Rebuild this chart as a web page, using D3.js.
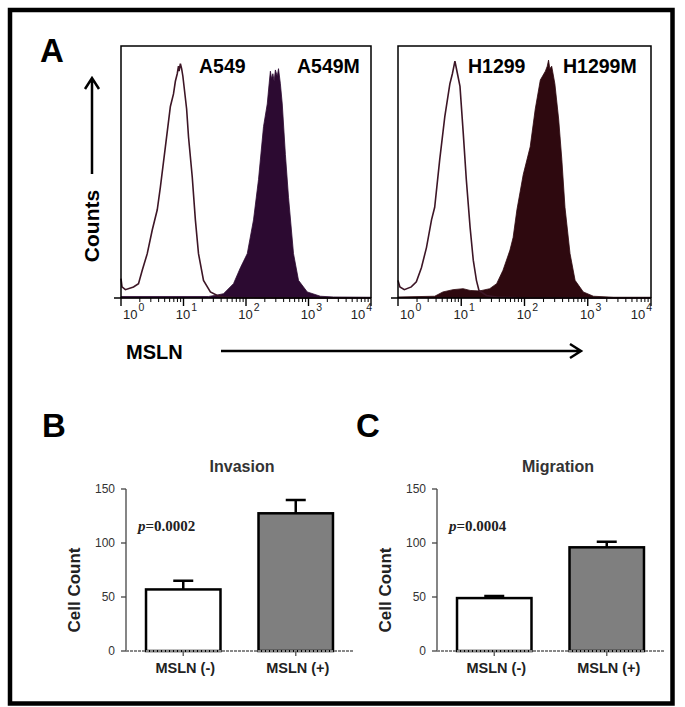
<!DOCTYPE html>
<html>
<head>
<meta charset="utf-8">
<script src="https://cdn.jsdelivr.net/npm/d3@7"></script>
<style>
  html, body { margin: 0; padding: 0; background: #fff; }
  svg { display: block; }
</style>
</head>
<body>
<svg id="chart" width="685" height="707"></svg>
<script>
// ---------------- DATA ----------------
// Flow cytometry histograms: [log10(MSLN intensity), relative counts]
const a549Open = [[0,7.7],[0.016,4.4],[0.07,3.3],[0.2,4.4],[0.28,5.7],[0.34,11],[0.42,17.6],[0.5,27],[0.58,35],[0.63,44],[0.71,60],[0.79,76],[0.84,81],[0.87,86],[0.9,89],[0.92,92],[0.93,90],[0.95,93],[0.97,91],[0.99,88],[1.05,75],[1.08,64],[1.14,48],[1.19,31],[1.24,17.6],[1.32,7],[1.43,2.4],[1.54,1],[1.64,0.4],[1.8,0.2],[2.5,0],[4,0]];
const a549MFilled = [[0,0.6],[1.4,0.6],[1.5,1],[1.64,1.7],[1.8,5.7],[1.91,12],[2.02,17.6],[2.12,31],[2.2,47],[2.28,68],[2.34,77],[2.37,85],[2.39,90],[2.41,87],[2.43,89],[2.45,86],[2.47,90.5],[2.5,88],[2.52,91],[2.55,85],[2.58,77],[2.63,57],[2.68,40],[2.76,17.6],[2.84,7],[2.98,2.4],[3.19,0.7],[3.4,0.4],[4,0.3]];
const h1299Open = [[0,7],[0.03,4.4],[0.1,3.3],[0.21,4.4],[0.29,6.4],[0.37,12],[0.45,20],[0.53,31],[0.58,36],[0.66,55],[0.74,72],[0.82,85],[0.86,89],[0.9,94],[0.94,89],[0.98,84],[1.03,66],[1.08,47],[1.14,28],[1.19,15],[1.24,7],[1.28,3],[1.4,1],[1.56,0.4],[2,0],[4,0]];
const h1299MFilled = [[0,0.4],[0.58,0.7],[0.71,2.4],[0.87,3.3],[1.03,3.7],[1.14,3],[1.29,2.8],[1.45,3.7],[1.56,5.7],[1.66,11],[1.77,19],[1.82,24],[1.88,35],[1.98,49],[2.09,60],[2.17,75],[2.25,86.5],[2.33,90],[2.36,92],[2.38,94.4],[2.4,91],[2.43,92],[2.48,85],[2.54,71],[2.59,55],[2.64,36],[2.72,17.6],[2.8,7],[2.93,2.4],[3.09,0.7],[3.41,0.3],[4,0.3]];
const histLabels = [["A549","A549M"],["H1299","H1299M"]];
const decades = [0,1,2,3,4];

// Bar charts
const categories = ["MSLN (-)", "MSLN (+)"];
const invasionMeans = [57, 127.5];
const invasionErr = [8, 12.3];
const migrationMeans = [49, 96];
const migrationErr = [2, 5.2];
const barTicks = [0, 50, 100, 150];
const barTitles = ["Invasion", "Migration"];
const pValues = ["0.0002", "0.0004"];

// ---------------- DRAW ----------------
const svg = d3.select("#chart");
const SANS = "Arial, 'Liberation Sans', sans-serif";
const SERIF = "'Times New Roman', 'Liberation Serif', serif";

// outer frame
svg.append("rect").attr("x", 10).attr("y", 10).attr("width", 662.5).attr("height", 693.5)
  .attr("fill", "none").attr("stroke", "#000").attr("stroke-width", 4.5);

// panel letters
[["A",40,62],["B",42,437],["C",356,437]].forEach(([t,x,y]) => {
  svg.append("text").attr("x", x).attr("y", y).text(t)
    .attr("font-family", SANS).attr("font-weight", "bold").attr("font-size", 33).attr("fill", "#000");
});

function histogram(x0, x1, openData, fillData, labels, fillColor, labelX) {
  const y0 = 298, yTop = 46;
  const x = d3.scaleLinear().domain([0, 4]).range([x0, x1]);
  const y = d3.scaleLinear().domain([0, 100]).range([y0, yTop]);
  const g = svg.append("g");

  const area = d3.area().x(d => x(d[0])).y0(y(0)).y1(d => y(d[1]));
  g.append("path").datum(fillData).attr("d", area).attr("fill", fillColor)
    .attr("stroke", fillColor).attr("stroke-width", 0.8);

  const line = d3.line().x(d => x(d[0])).y(d => y(d[1]));
  g.append("path").datum(openData).attr("d", line)
    .attr("fill", "none").attr("stroke", "#3d1626").attr("stroke-width", 1.6);

  // frame (left, top, right)
  g.append("path")
    .attr("d", `M${x0},${y0} V${yTop} H${x1} V${y0}`)
    .attr("fill", "none").attr("stroke", "#000").attr("stroke-width", 1.5);

  // bottom axis with log ticks
  g.append("line").attr("x1", x0 - 7).attr("x2", x1).attr("y1", y0).attr("y2", y0)
    .attr("stroke", "#000").attr("stroke-width", 1.5);
  const minor = [];
  decades.slice(0, 4).forEach(dk => { for (let m = 2; m <= 9; m++) minor.push(dk + Math.log10(m)); });
  g.selectAll(".mn").data(minor).enter().append("line")
    .attr("x1", d => x(d)).attr("x2", d => x(d)).attr("y1", y0).attr("y2", y0 + 4)
    .attr("stroke", "#000").attr("stroke-width", 1);
  g.selectAll(".mj").data(decades).enter().append("line")
    .attr("x1", d => x(d)).attr("x2", d => x(d)).attr("y1", y0).attr("y2", y0 + 8)
    .attr("stroke", "#000").attr("stroke-width", 1.4);

  decades.forEach((k, i) => {
    const t = g.append("text").attr("y", 319)
      .attr("font-family", SANS).attr("font-size", 13).attr("fill", "#222");
    let anchor = "middle", px = x(k) + 3;
    if (i === 0) { anchor = "start"; px = x(k) + 2; }
    if (i === decades.length - 1) { anchor = "end"; px = x(k) + 1; }
    t.attr("x", px).attr("text-anchor", anchor);
    t.append("tspan").text("10");
    t.append("tspan").attr("dy", -8).attr("dx", 1).attr("font-size", 10.5).text(k);
  });

  labels.forEach((lab, i) => {
    g.append("text").attr("x", labelX[i]).attr("y", 73).text(lab)
      .attr("font-family", SANS).attr("font-weight", "bold").attr("font-size", 19.5).attr("fill", "#000");
  });
}

histogram(121, 371, a549Open, a549MFilled, histLabels[0], "#2c0a31", [199, 297]);
histogram(398, 651, h1299Open, h1299MFilled, histLabels[1], "#2e090f", [468, 563]);

// Counts arrow + label
svg.append("path").attr("d", "M92,174 V78 M85,89 L92,78 L99,89")
  .attr("fill", "none").attr("stroke", "#000").attr("stroke-width", 2.5);
svg.append("text").attr("transform", "translate(99,226) rotate(-90)")
  .attr("text-anchor", "middle").text("Counts")
  .attr("font-family", SANS).attr("font-weight", "bold").attr("font-size", 21);

// MSLN arrow + label
svg.append("text").attr("x", 126).attr("y", 359).text("MSLN")
  .attr("font-family", SANS).attr("font-weight", "bold").attr("font-size", 20);
svg.append("path").attr("d", "M221,351 H581 M570,344 L581,351 L570,358")
  .attr("fill", "none").attr("stroke", "#000").attr("stroke-width", 2.5);

// Bar charts
function barChart(axisX, means, errs, title, pval, titleX) {
  const W = 227;
  const y = d3.scaleLinear().domain([0, 150]).range([651, 489]);
  const x = d3.scaleBand().domain(categories).range([axisX, axisX + W])
    .paddingInner(0.338).paddingOuter(0.178);
  const g = svg.append("g");

  // y axis
  g.append("line").attr("x1", axisX).attr("x2", axisX).attr("y1", y(150)).attr("y2", y(0))
    .attr("stroke", "#444").attr("stroke-width", 1.3);
  g.selectAll(".yt").data(barTicks).enter().append("line")
    .attr("x1", axisX - 5).attr("x2", axisX).attr("y1", d => y(d)).attr("y2", d => y(d))
    .attr("stroke", "#444").attr("stroke-width", 1.3);
  g.selectAll(".yl").data(barTicks).enter().append("text")
    .attr("x", axisX - 11).attr("y", d => y(d) + 4).attr("text-anchor", "end").text(d => d)
    .attr("font-family", SANS).attr("font-size", 12).attr("fill", "#333");

  // bars
  g.selectAll(".bar").data(means).enter().append("rect")
    .attr("x", (d, i) => x(categories[i])).attr("width", x.bandwidth())
    .attr("y", d => y(d)).attr("height", d => y(0) - y(d))
    .attr("fill", (d, i) => i === 0 ? "#fff" : "#7f7f7f")
    .attr("stroke", "#000").attr("stroke-width", 2.5);

  // error bars (upper)
  means.forEach((m, i) => {
    const cx = x(categories[i]) + x.bandwidth() / 2;
    g.append("path")
      .attr("d", `M${cx},${y(m)} V${y(m + errs[i])} M${cx - 10},${y(m + errs[i])} H${cx + 10}`)
      .attr("fill", "none").attr("stroke", "#000").attr("stroke-width", 2.5);
  });

  // x axis
  g.append("line").attr("x1", axisX).attr("x2", axisX + W).attr("y1", y(0)).attr("y2", y(0))
    .attr("stroke", "#888").attr("stroke-width", 2).attr("stroke-dasharray", "3,1");
  categories.forEach(c => {
    const cx = x(c) + x.bandwidth() / 2;
    g.append("line").attr("x1", cx).attr("x2", cx).attr("y1", y(0)).attr("y2", y(0) + 5)
      .attr("stroke", "#666").attr("stroke-width", 1.5);
    g.append("text").attr("x", cx + 2).attr("y", 673).attr("text-anchor", "middle").text(c)
      .attr("font-family", SANS).attr("font-weight", "bold").attr("font-size", 14.5).attr("fill", "#222");
  });

  // title
  g.append("text").attr("x", titleX).attr("y", 472).attr("text-anchor", "middle").text(title)
    .attr("font-family", SANS).attr("font-weight", "bold").attr("font-size", 16).attr("fill", "#333");

  // y label
  g.append("text").attr("transform", `translate(${axisX - 46},${y(0) - 61}) rotate(-90)`)
    .attr("text-anchor", "middle").text("Cell Count")
    .attr("font-family", SANS).attr("font-weight", "bold").attr("font-size", 17).attr("fill", "#222");

  // p value
  const pt = g.append("text").attr("x", axisX + 12).attr("y", 531)
    .attr("font-family", SERIF).attr("font-weight", "bold").attr("font-size", 15).attr("fill", "#222");
  pt.append("tspan").attr("font-style", "italic").text("p");
  pt.append("tspan").text("=" + pval);
}

barChart(126, invasionMeans, invasionErr, barTitles[0], pValues[0], 242);
barChart(437, migrationMeans, migrationErr, barTitles[1], pValues[1], 558);
</script>
</body>
</html>
